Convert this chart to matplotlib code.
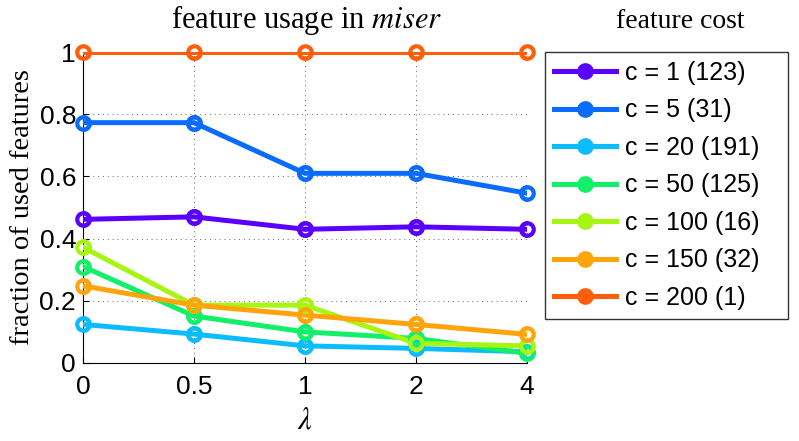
import matplotlib.pyplot as plt
import numpy as np

# data
lambdas = ['0', '0.5', '1', '2', '4']
labels = ['c = 1 (123)', 'c = 5 (31)', 'c = 20 (191)', 'c = 50 (125)',
          'c = 100 (16)', 'c = 150 (32)', 'c = 200 (1)']
c1 = [0.462, 0.470, 0.430, 0.438, 0.430]
c5 = [0.773, 0.773, 0.610, 0.610, 0.546]
c20 = [0.124, 0.093, 0.055, 0.047, 0.036]
c50 = [0.310, 0.151, 0.100, 0.079, 0.031]
c100 = [0.372, 0.186, 0.186, 0.063, 0.055]
c150 = [0.248, 0.186, 0.154, 0.124, 0.092]
c200 = [1.0, 1.0, 1.0, 1.0, 1.0]
series = [c1, c5, c20, c50, c100, c150, c200]
colors = ['#5a00ff', '#0a6cff', '#0bbcff', '#12f06a', '#a8f514', '#ffa40a', '#ff5f0a']

plt.rcParams['mathtext.fontset'] = 'stix'

fig = plt.figure(figsize=(7.99, 4.41), dpi=100)
ax = fig.add_axes([0.1039, 0.1769, 0.5557, 0.705])

x = np.arange(len(lambdas))
for vals, col, lab in zip(series, colors, labels):
    # line clipped to the axes (like matlab), markers drawn over it unclipped
    ax.plot(x, vals, '-o', color=col, lw=3.6, ms=9, mfc='none', mew=3,
            label=lab, zorder=3)
    ax.plot(x, vals, 'o', color=col, ms=9, mfc='none', mew=3,
            clip_on=False, zorder=4)

ax.set_xlim(0, len(lambdas) - 1)
ax.set_ylim(0, 1)
ax.set_xticks(x)
ax.set_xticklabels(lambdas)
ax.set_yticks([0, 0.2, 0.4, 0.6, 0.8, 1])
ax.set_yticklabels(['0', '0.2', '0.4', '0.6', '0.8', '1'])
ax.tick_params(labelsize=19, direction='in', length=4)
ax.tick_params(axis='x', pad=9)
ax.tick_params(axis='y', pad=5)
for t in ax.get_xticklabels() + ax.get_yticklabels():
    t.set_family('Liberation Sans')
ax.spines['top'].set_visible(False)
ax.spines['right'].set_visible(False)
ax.grid(True, linestyle=(0, (1, 4)), color='#666666', linewidth=0.7)
ax.set_axisbelow(True)

ax.set_xlabel(r'$\lambda$', fontsize=22, labelpad=4)
ax.set_ylabel('fraction of used features', fontsize=20.5, family='Liberation Serif', labelpad=3)
fig.text(0.384, 0.937, r'feature usage in $\mathit{miser}$', fontsize=22,
         family='Liberation Serif', ha='center', va='baseline')
fig.text(0.851, 0.937, 'feature cost', fontsize=20, family='Liberation Serif',
         ha='center', va='baseline')

handles, _ = ax.get_legend_handles_labels()
leg = fig.legend(handles, labels, loc='upper left',
                 bbox_to_anchor=(0.682, 0.27, 0.304, 0.612), mode='expand',
                 bbox_transform=fig.transFigure, fancybox=False, edgecolor='black',
                 handlelength=2.5, handletextpad=0.35, borderaxespad=0,
                 labelspacing=0.54, borderpad=0.35,
                 prop={'family': 'Liberation Sans', 'size': 18})
leg.get_frame().set_linewidth(1.0)
for h in leg.get_lines():
    h.set_markerfacecolor(h.get_color())

plt.savefig('out.png', dpi=100)
plt.close()
